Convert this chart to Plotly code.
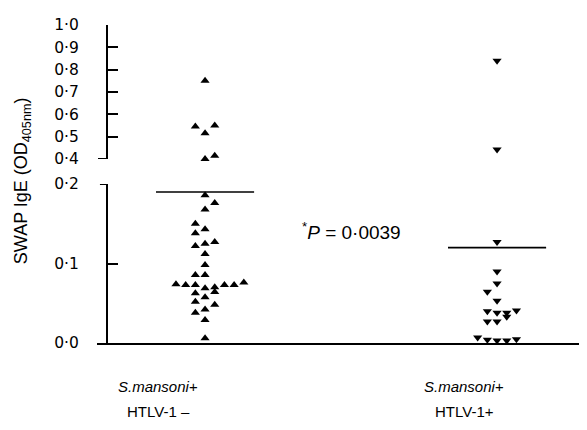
import plotly.graph_objects as go

# ---------------- data ----------------
group_names = ["<i>S.mansoni+</i>", "<i>S.mansoni+</i>"]
group_sub = ["HTLV-1 \u2013", "HTLV-1+"]

# Group 1: S.mansoni+ HTLV-1 -  (triangle-up)
g1_values = [0.75, 0.545, 0.55, 0.515, 0.40, 0.415,
             0.186, 0.176, 0.168, 0.150, 0.143, 0.138, 0.125, 0.127, 0.122,
             0.112, 0.098, 0.0855, 0.0855,
             0.074, 0.073, 0.073, 0.069, 0.070, 0.073, 0.073, 0.076,
             0.064, 0.0625, 0.0575, 0.052, 0.048, 0.042, 0.038, 0.029, 0.006]
g1_slots = [0, -1, 1, 0, 0, 1,
            0, 1, 0, -1, 0, -1, 0, 1, -1,
            0, 0, -1, 0,
            -3, -2, -1, 0, 1, 2, 3, 4,
            1, -1, 0, -1, 1, 0, -1, 0, 0]

# Group 2: S.mansoni+ HTLV-1+  (triangle-down)
g2_values = [0.84, 0.443, 0.127, 0.090, 0.075, 0.0645, 0.053,
             0.040, 0.038, 0.038, 0.041, 0.033, 0.027, 0.027,
             0.007, 0.004, 0.003, 0.003, 0.0047]
g2_slots = [0, 0, 0, 0, 0, -1, 0,
            -1, 0, 1, 2, 1, -1, 0,
            -2, -1, 0, 1, 2]

group_lines = [0.19, 0.12]          # horizontal bars drawn per group

lower_ticks = [0.0, 0.1, 0.2]
lower_labels = ["0\u00b70", "0\u00b71", "0\u00b72"]
upper_ticks = [0.4, 0.5, 0.6, 0.7, 0.8, 0.9, 1.0]
upper_labels = ["0\u00b74", "0\u00b75", "0\u00b76", "0\u00b77", "0\u00b78", "0\u00b79", "1\u00b70"]

y_title = "SWAP IgE (OD<sub>405nm</sub>)"
p_text = "<sup>*</sup><i>P</i> = 0\u00b70039"

# ---------------- figure ----------------
FONT = "Liberation Sans, Arial, sans-serif"
NUMFONT = "DejaVu Sans, sans-serif"
BREAK = 0.3
SLOT_W = 0.0332
HALF_LINE = 0.168

fig = go.Figure()

def add_group(center, values, slots, symbol):
    lo_x, lo_y, hi_x, hi_y = [], [], [], []
    for v, s in zip(values, slots):
        if v >= BREAK:
            hi_x.append(center + s * SLOT_W); hi_y.append(v)
        else:
            lo_x.append(center + s * SLOT_W); lo_y.append(v)
    mk = dict(symbol=symbol, size=8, color="black", line=dict(width=0))
    fig.add_trace(go.Scatter(x=lo_x, y=lo_y, mode="markers", marker=mk,
                             xaxis="x", yaxis="y", cliponaxis=False, showlegend=False))
    fig.add_trace(go.Scatter(x=hi_x, y=hi_y, mode="markers", marker=mk,
                             xaxis="x", yaxis="y2", cliponaxis=False, showlegend=False))

add_group(1, g1_values, g1_slots, "triangle-up")
add_group(2, g2_values, g2_slots, "triangle-down")

for i, v in enumerate(group_lines):
    c = i + 1
    fig.add_trace(go.Scatter(x=[c - HALF_LINE, c + HALF_LINE], y=[v, v], mode="lines",
                             line=dict(color="black", width=1.6),
                             xaxis="x", yaxis="y", showlegend=False, hoverinfo="skip"))

axis_common = dict(anchor="free", position=0.0204, ticks="inside", ticklen=10, tickwidth=2,
                   tickcolor="black", showline=True, linewidth=2, linecolor="black",
                   showgrid=False, zeroline=False,
                   tickfont=dict(family=NUMFONT, size=15.5, color="black"),
                   ticklabelstandoff=24)

# the page body adds an 8px offset (left/top), so the figure is shifted back by 8px
fig.update_layout(
    width=579, height=422,
    margin=dict(l=89, r=0, t=17, b=87, pad=0),
    paper_bgcolor="white", plot_bgcolor="white",
    font=dict(family=FONT, color="black"),
    xaxis=dict(range=[0.63, 2.308], showline=True, linewidth=2, linecolor="black",
               showticklabels=False, ticks="", showgrid=False, zeroline=False, anchor="y"),
    yaxis=dict(domain=[0, 0.5], range=[0, 0.2], tickvals=lower_ticks, ticktext=lower_labels,
               **axis_common),
    yaxis2=dict(domain=[0.5786, 1], range=[0.4, 1.0], tickvals=upper_ticks, ticktext=upper_labels,
                **axis_common),
    shapes=[
        dict(type="line", xref="paper", yref="y", x0=0.006, x1=0.0204, y0=0.2, y1=0.2,
             line=dict(color="black", width=2)),
        dict(type="line", xref="paper", yref="y2", x0=0.002, x1=0.0204, y0=0.4, y1=0.4,
             line=dict(color="black", width=2)),
    ],
)

annotations = []
label_x = [0.839, 1.887]
for i in range(2):
    annotations.append(dict(x=label_x[i], y=-0.138, xref="x", yref="paper", text=group_names[i],
                            showarrow=False, xanchor="center", yanchor="middle",
                            font=dict(family=FONT, size=15, color="black")))
    annotations.append(dict(x=label_x[i], y=-0.214, xref="x", yref="paper", text=group_sub[i],
                            showarrow=False, xanchor="center", yanchor="middle",
                            font=dict(family=FONT, size=15, color="black")))
annotations.append(dict(x=-0.153, y=0.509, xref="paper", yref="paper", text=y_title,
                        textangle=-90, showarrow=False, xanchor="center", yanchor="middle",
                        font=dict(family=FONT, size=18, color="black")))
annotations.append(dict(x=0.414, y=0.352, xref="paper", yref="paper", text=p_text,
                        showarrow=False, xanchor="left", yanchor="middle",
                        font=dict(family=FONT, size=19, color="black")))
fig.update_layout(annotations=annotations)

fig.write_html("out.html")
